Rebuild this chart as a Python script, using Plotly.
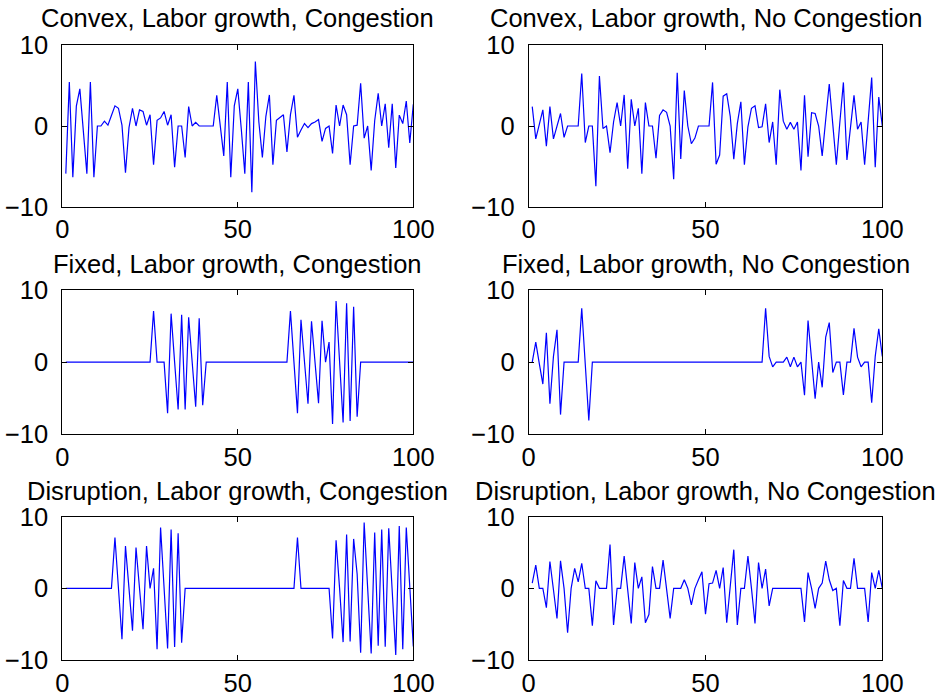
import plotly.graph_objects as go

x_idx = list(range(1, 101))
x_ticks = [0, 50, 100]
y_ticks = [-10, 0, 10]

titles = [
    "Convex, Labor growth, Congestion",
    "Convex, Labor growth, No Congestion",
    "Fixed, Labor growth, Congestion",
    "Fixed, Labor growth, No Congestion",
    "Disruption, Labor growth, Congestion",
    "Disruption, Labor growth, No Congestion",
]

convex_cong = [
    -5.9, 5.45, -6.35, 2.46, 4.6, -0.4, -5.9, 5.45, -6.35, 0,
    0, 0.6, 0.1, 1.3, 2.5, 2.2, 0.1, -5.8, -0.2, 2.2,
    0, 2.0, 1.8, 0.1, 1.4, -4.8, 0.7, 1.0, 1.8, 0.1,
    1.4, -5.1, 0, 0, -3.9, 2.4, 0, 0.45, 0, 0,
    0, 0, 0, 3.8, 0, -3.7, 5.45, -6.35, 2.5, 4.6,
    -0.4, -5.9, 5.45, -8.2, 8.0, 0.5, -3.9, 1.2, 3.85, -4.8,
    0.7, 1.0, 1.4, -3.2, 1.4, 3.8, -1.4, -0.5, 0.3, -0.2,
    0.3, 0.5, 0.8, -1.9, -0.3, 0, -3.4, 2.6, 0, 2.6,
    1.4, -4.8, 0, 0.1, 5.3, -1.5, 0, -5.5, 0.65, 4.05,
    0, 2.75, -2.7, 2.75, -5.2, 1.35, 0.3, 3.1, -2.1, 2.7,
]

convex_nocong = [
    2.4, -1.6, 0.2, 2.0, -2.5, 2.4, -1.6, 0, 1.55, -1.4,
    0, 0, 0, 0, 6.5, -2.05, 0, 0, -7.45, 6.2,
    -0.3, 0, -3.3, 0.5, 2.9, 0, 3.85, -5.3, 3.3, 0,
    2.2, -5.9, 2.9, 0, 0, -4.0, 1.3, 2.0, 1.7, 0,
    -6.6, 6.6, -4.1, 4.4, 0, -2.2, -1.5, 0, 0, 0,
    0, 5.4, -4.75, -3.6, 3.7, 4.0, 1.2, -4.1, 0.3, 3.0,
    -4.8, -0.1, 2.2, 2.5, -0.2, -0.1, 2.75, -2.05, 0.5, -4.8,
    4.5, 0.6, -0.4, 0.45, -0.4, 0.5, -5.5, 3.8, -3.8, 1.65,
    1.55, 0, -3.7, 0.8, 5.2, 0.2, -4.8, 0.5, 5.4, -4.2,
    -0.2, 3.8, -0.4, 0.5, -4.8, 0.6, 6.0, -5.1, 3.6, 0,
]

fixed_cong = [
    0, 0, 0, 0, 0, 0, 0, 0, 0, 0,
    0, 0, 0, 0, 0, 0, 0, 0, 0, 0,
    0, 0, 0, 0, 0, 7.1, 0, 0, 0, -7.1,
    6.75, 0, -6.6, 6.6, -6.6, 6.25, 0, -6.2, 6.1, -6.0,
    0, 0, 0, 0, 0, 0, 0, 0, 0, 0,
    0, 0, 0, 0, 0, 0, 0, 0, 0, 0,
    0, 0, 0, 0, 7.1, 0, -7.1, 5.9, 0, -5.8,
    5.7, 0, -5.7, 5.75, 0, 2.8, -8.6, 8.5, 0, -8.4,
    8.2, -8.2, 7.7, -7.6, 0, 0, 0, 0, 0, 0,
    0, 0, 0, 0, 0, 0, 0, 0, 0, 0,
]

fixed_nocong = [
    0, 2.8, -0.2, -3.05, 4.1, -5.8, 0.8, 4.5, -7.3, 0,
    0, 0, 0, 0, 7.5, 0, -8.1, 0, 0, 0,
    0, 0, 0, 0, 0, 0, 0, 0, 0, 0,
    0, 0, 0, 0, 0, 0, 0, 0, 0, 0,
    0, 0, 0, 0, 0, 0, 0, 0, 0, 0,
    0, 0, 0, 0, 0, 0, 0, 0, 0, 0,
    0, 0, 0, 0, 0, 0, 7.5, 0.8, -0.65, 0,
    0, 0, 0.7, -0.65, 0.7, -0.65, 0, -4.6, 5.8, 0,
    -5.1, 0, -3.5, 3.5, 5.5, -1.45, 0, 0, -4.55, 0,
    0, 4.7, 0.7, -0.65, 0, 0, -5.65, 0.8, 4.65, 0.8,
]

disruption_cong = [
    0, 0, 0, 0, 0, 0, 0, 0, 0, 0,
    0, 0, 0, 0, 7.1, 0, -7.1, 5.9, 0, -5.9,
    5.7, 0, -5.7, 5.9, 0, 2.8, -8.5, 8.5, 0, -8.4,
    8.2, -8.2, 7.7, -7.6, 0, 0, 0, 0, 0, 0,
    0, 0, 0, 0, 0, 0, 0, 0, 0, 0,
    0, 0, 0, 0, 0, 0, 0, 0, 0, 0,
    0, 0, 0, 0, 0, 0, 7.1, 0, 0, 0,
    0, 0, 0, 0, 0, 0, -7.0, 6.7, 0, -7.5,
    7.5, -7.4, 6.9, 2.0, -9.0, 9.2, 0, -9.1, 7.8, -8.0,
    8.2, -8.15, 8.4, 0, -9.3, 8.7, -8.5, 8.5, 0, -8.1,
]

disruption_nocong = [
    0.74, 3.25, 0, 0, -2.7, 3.75, -0.2, -4.2, 3.84, 0,
    -6.2, 0, 2.8, 0.9, 3.5, 0, 0, -5.2, 1.06, 0,
    0, 0, 6.1, -5.1, 0, 0, 4.5, 0, -4.9, 3.6,
    0, 1.6, -4.8, -3.65, 3.05, 0, 0, 3.94, 0, -4.2,
    0, 0, 0, 1.2, 0, -2.3, 0, 1.2, 2.3, -3.6,
    0.65, 0.74, 2.5, 0, 2.9, -4.8, 0.2, 5.4, -5.1, 0,
    0, 4.5, 0, -4.9, 3.6, 0, 2.7, -2.45, 0, 0,
    0, 0, 0, 0, 0, 0, 0, -4.7, 2.2, 0,
    -2.8, 0, 0.74, 3.8, 1.2, -0.3, 0, -5.2, 1.1, 0,
    0, 4.2, 0, 0, 0, -4.7, 2.2, 0, 2.5, 0,
]

series = [convex_cong, convex_nocong, fixed_cong, fixed_nocong,
          disruption_cong, disruption_nocong]

W, H = 943, 697
col_px = [(62.3, 413.3), (528.7, 882.3)]
row_px = [(45.3, 206.7), (290.3, 434.0), (516.7, 660.0)]
title_px = [18.5, 263.5, 490.5]

FONT = "Liberation Sans, Arial, Helvetica, sans-serif"

fig = go.Figure()
layout = dict(
    template="none",
    width=W, height=H,
    margin=dict(l=0, r=0, t=0, b=0, pad=0),
    paper_bgcolor="white", plot_bgcolor="white",
    showlegend=False,
    annotations=[],
)

for k, ys in enumerate(series):
    r, c = divmod(k, 2)
    n = k + 1
    xa = "x" if n == 1 else f"x{n}"
    ya = "y" if n == 1 else f"y{n}"
    fig.add_trace(go.Scatter(x=x_idx, y=ys, mode="lines",
                             line=dict(color="#0000ff", width=1.2),
                             xaxis=xa, yaxis=ya, hoverinfo="skip"))
    x0, x1 = col_px[c]
    yt, yb = row_px[r]
    common = dict(showgrid=False, zeroline=False, showline=True,
                  linecolor="black", linewidth=1, mirror="ticks",
                  ticks="inside", ticklen=5, tickcolor="black",
                  automargin=False,
                  tickfont=dict(family=FONT, size=25.5, color="black"))
    layout["xaxis" if n == 1 else f"xaxis{n}"] = dict(
        domain=[x0 / W, x1 / W], range=[0, 100], tickvals=x_ticks,
        anchor=ya, ticklabelstandoff=0, **common)
    layout["yaxis" if n == 1 else f"yaxis{n}"] = dict(
        domain=[1 - yb / H, 1 - yt / H], range=[-10, 10], tickvals=y_ticks,
        anchor=xa, ticklabelstandoff=8, **common)
    layout["annotations"].append(dict(
        text=titles[k], xref="paper", yref="paper",
        x=(x0 + x1) / 2 / W, y=1 - title_px[r] / H,
        xanchor="center", yanchor="middle", showarrow=False,
        font=dict(family=FONT, size=25.5, color="black")))

fig.update_layout(**layout)
fig.write_html("out.html")
